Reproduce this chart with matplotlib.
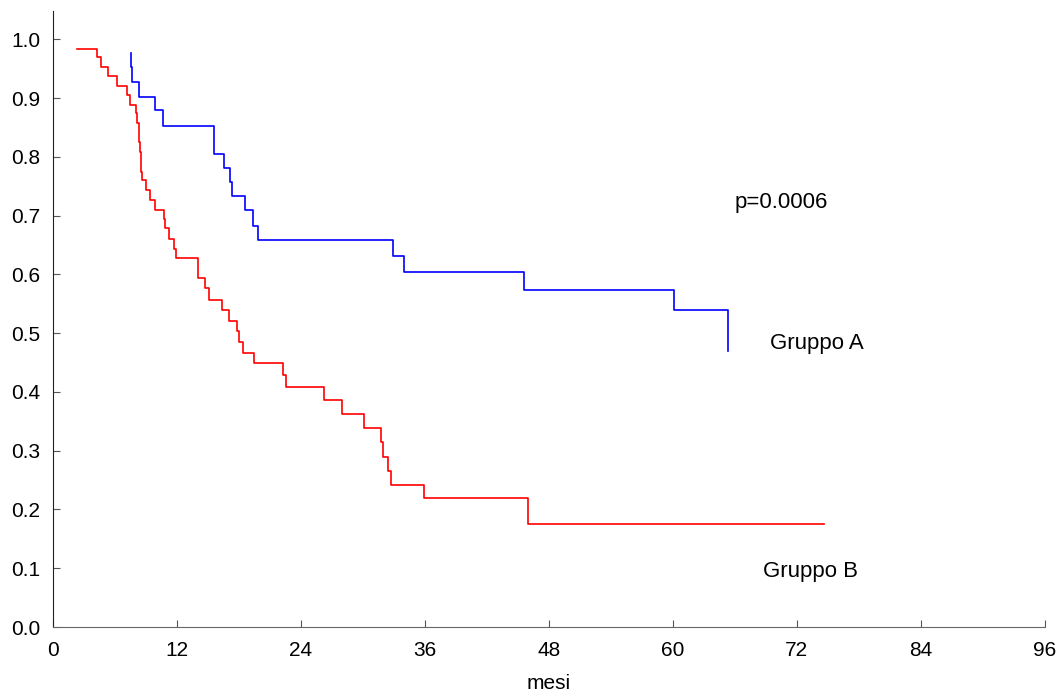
import matplotlib
matplotlib.use("Agg")
import matplotlib.pyplot as plt
import numpy as np

plt.rcParams['font.family'] = ['Liberation Sans', 'DejaVu Sans']

# Kaplan-Meier curves (time in months, survival)
tempi_a = [7.52, 7.52, 7.65, 8.29, 9.84, 10.68, 15.55, 16.58, 17.1, 17.29, 18.61,
           19.32, 19.84, 32.94, 33.94, 45.55, 60.1, 65.29, 65.36]
surv_a = [0.976, 0.952, 0.928, 0.902, 0.879, 0.853, 0.805, 0.781, 0.758, 0.733, 0.709,
          0.682, 0.658, 0.631, 0.604, 0.574, 0.540, 0.505, 0.470]

tempi_b = [2.3, 4.26, 4.68, 5.35, 6.19, 7.19, 7.48, 8.0, 8.16, 8.29, 8.35, 8.42, 8.48,
           8.55, 8.61, 9.03, 9.42, 9.87, 10.77, 10.84, 11.23, 11.68, 11.94, 14.06, 14.68,
           15.06, 16.38, 17.0, 17.8, 18.03, 18.42, 19.42, 22.3, 22.53, 26.2, 28.0, 30.13,
           31.74, 31.94, 32.45, 32.71, 35.87, 45.97, 74.6]
surv_b = [0.984, 0.969, 0.953, 0.938, 0.920, 0.906, 0.889, 0.874, 0.857, 0.841, 0.825,
          0.808, 0.791, 0.775, 0.760, 0.743, 0.726, 0.710, 0.695, 0.679, 0.660, 0.643,
          0.627, 0.593, 0.576, 0.557, 0.539, 0.520, 0.503, 0.485, 0.467, 0.449, 0.429,
          0.409, 0.386, 0.362, 0.338, 0.314, 0.290, 0.266, 0.242, 0.219, 0.176, 0.176]

xticks = np.arange(0, 97, 12)
yticks = np.arange(0, 1.01, 0.1)

fig = plt.figure(figsize=(10.59, 6.95), dpi=100)
ax = fig.add_axes([0.0500, 0.0978, 0.9367, 0.8863])

ax.step(tempi_a, surv_a, where='post', color='#0000ff', lw=1.2)
ax.step(tempi_b, surv_b, where='post', color='#ff0000', lw=1.2)

ax.text(66.0, 0.7215, 'p=0.0006', fontsize=16, ha='left', va='center')
ax.text(69.4, 0.483, 'Gruppo A', fontsize=16, ha='left', va='center')
ax.text(68.7, 0.0953, 'Gruppo B', fontsize=16, ha='left', va='center')

ax.set_xlim(0, 96)
ax.set_ylim(0, 1.048)
ax.set_xticks(xticks)
ax.set_yticks(yticks)
ax.set_yticklabels([f'{v:.1f}' for v in yticks])
ax.tick_params(direction='in', length=5, color='#555555', labelsize=15)
ax.tick_params(axis='x', pad=10)
ax.tick_params(axis='y', pad=9)

ax.set_xlabel('mesi', fontsize=15)
ax.xaxis.set_label_coords(0.5, -0.076)

ax.spines['top'].set_visible(False)
ax.spines['right'].set_visible(False)
ax.spines['left'].set_color('#222222')
ax.spines['bottom'].set_color('#666666')

fig.savefig('out.png', dpi=100)
